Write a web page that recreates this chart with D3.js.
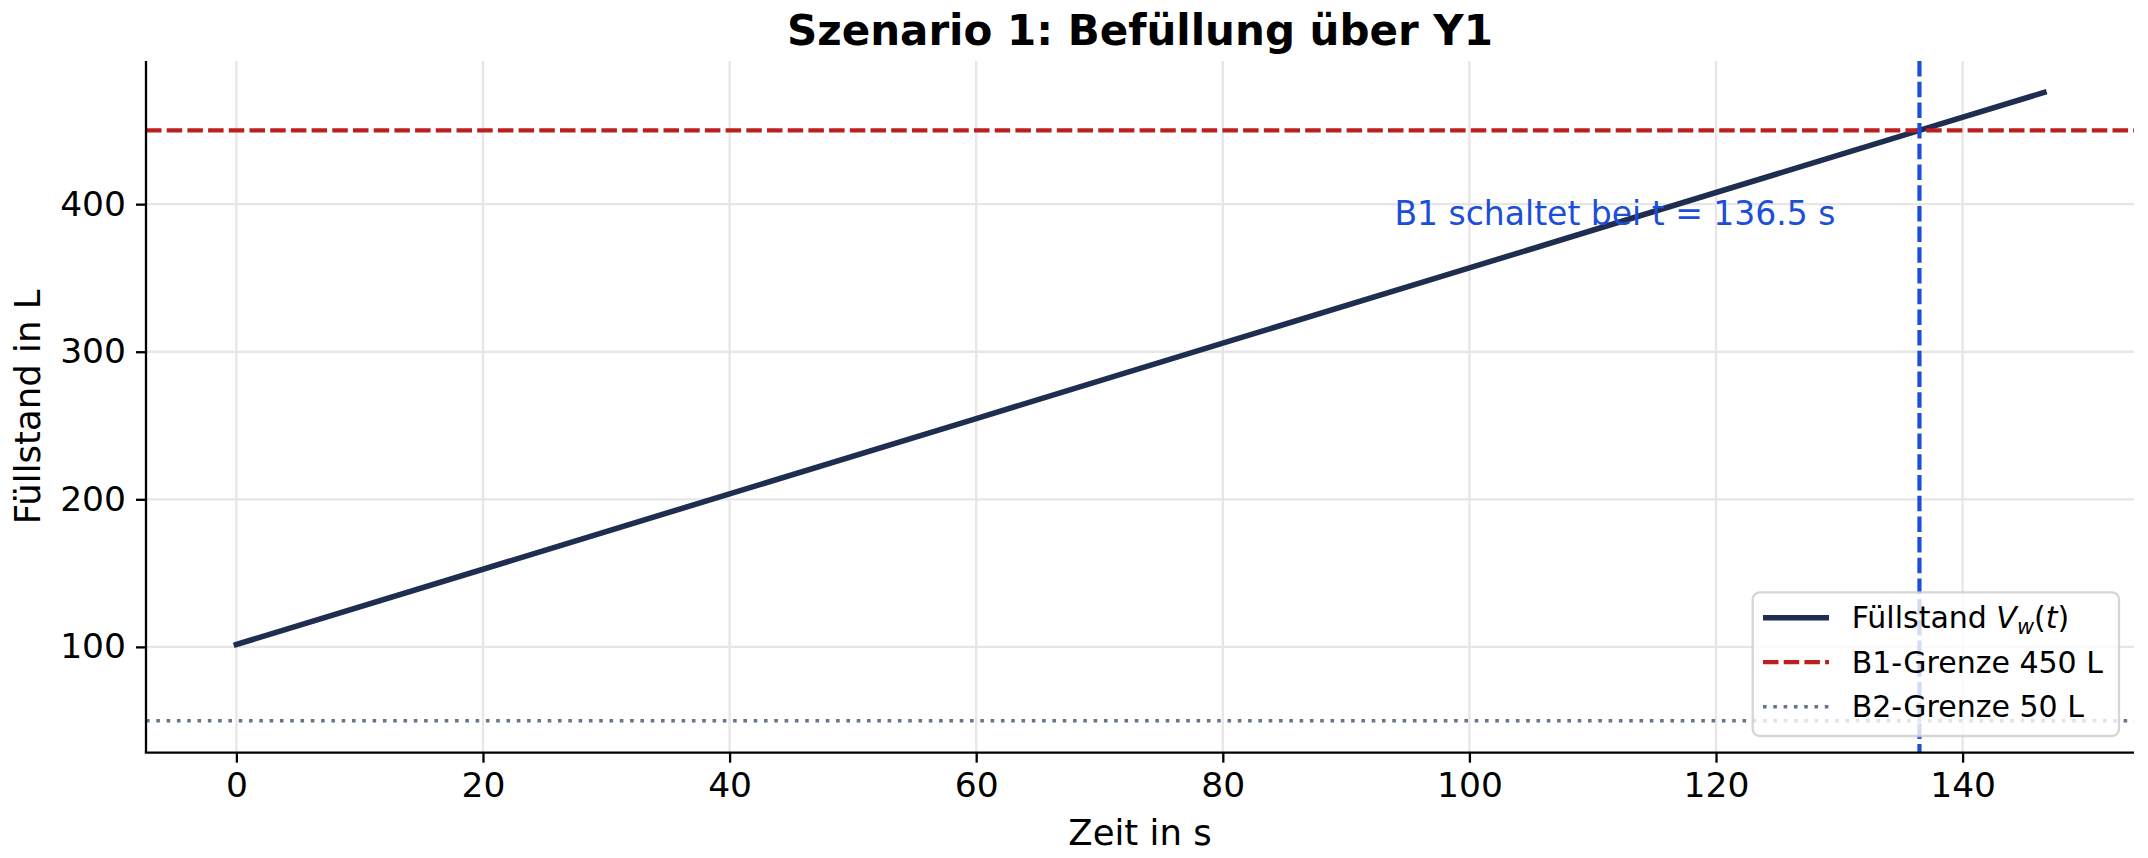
<!DOCTYPE html>
<html>
<head>
<meta charset="utf-8">
<script src="https://cdn.jsdelivr.net/npm/d3@7"></script>
<style>
  body { margin: 0; background: #fff; }
  text { font-family: "DejaVu Sans", sans-serif; }
</style>
</head>
<body>
<script>
// data
var zeit = [0, 20, 40, 60, 80, 100, 120, 136.5, 146.6];
var fuellstand = [101.6, 152.6, 203.7, 254.7, 305.8, 356.8, 407.9, 450, 475.7];
var b1Grenze = 450;
var b2Grenze = 50;
var schaltZeit = 136.5;
var xTicks = [0, 20, 40, 60, 80, 100, 120, 140];
var yTicks = [100, 200, 300, 400];
var legendLabels = ["B1-Grenze 450 L", "B2-Grenze 50 L"];

// svg container
var svgWidth = 2148;
var svgHeight = 858;

var margin = { top: 61, right: 14, bottom: 105.3, left: 146 };
var chartWidth = svgWidth - margin.left - margin.right;
var chartHeight = svgHeight - margin.top - margin.bottom;

var navy = "#1f2d50", red = "#bd1f1f", blue = "#1d4ed8", slate = "#64748b";

var svg = d3.select("body").append("svg")
    .attr("width", svgWidth)
    .attr("height", svgHeight);

var chartGroup = svg.append("g")
    .attr("transform", `translate(${margin.left}, ${margin.top})`);

// scales (matplotlib style 5% margins)
var xScale = d3.scaleLinear().domain([-7.33, 153.9]).range([0, chartWidth]);
var yScale = d3.scaleLinear().domain([28.3, 497]).range([chartHeight, 0]);

svg.append("defs").append("clipPath").attr("id", "plotclip")
  .append("rect").attr("width", chartWidth).attr("height", chartHeight);

// grid
chartGroup.append("g").selectAll("line").data(xTicks).enter().append("line")
    .attr("x1", d => xScale(d)).attr("x2", d => xScale(d))
    .attr("y1", 0).attr("y2", chartHeight)
    .attr("stroke", "#e6e6e6").attr("stroke-width", 2.3);
chartGroup.append("g").selectAll("line").data(yTicks).enter().append("line")
    .attr("x1", 0).attr("x2", chartWidth)
    .attr("y1", d => yScale(d)).attr("y2", d => yScale(d))
    .attr("stroke", "#e6e6e6").attr("stroke-width", 2.3);

var plot = chartGroup.append("g").attr("clip-path", "url(#plotclip)");

// main line
var line = d3.line().x((d, i) => xScale(zeit[i])).y(d => yScale(d));
plot.append("path")
    .datum(fuellstand)
    .attr("d", line)
    .attr("fill", "none")
    .attr("stroke", navy)
    .attr("stroke-width", 5.6)
    .attr("stroke-linecap", "square");

// B1 limit
plot.append("line")
    .attr("x1", 0).attr("x2", chartWidth)
    .attr("y1", yScale(b1Grenze)).attr("y2", yScale(b1Grenze))
    .attr("stroke", red).attr("stroke-width", 4.2)
    .attr("stroke-dasharray", "15.5,5.2");

// switch time
plot.append("line")
    .attr("x1", xScale(schaltZeit)).attr("x2", xScale(schaltZeit))
    .attr("y1", 0).attr("y2", chartHeight)
    .attr("stroke", blue).attr("stroke-width", 4.2)
    .attr("stroke-dasharray", "15.5,5.2");

// B2 limit
plot.append("line")
    .attr("x1", 0).attr("x2", chartWidth)
    .attr("y1", yScale(b2Grenze)).attr("y2", yScale(b2Grenze))
    .attr("stroke", slate).attr("stroke-width", 3.6)
    .attr("stroke-dasharray", "3.6,6.7");

// annotation
chartGroup.append("text")
    .attr("x", xScale(schaltZeit) - 84)
    .attr("y", yScale(386))
    .attr("text-anchor", "end")
    .attr("font-size", 33)
    .attr("fill", blue)
    .text("B1 schaltet bei t = " + schaltZeit + " s");

// axes
var bottomAxis = d3.axisBottom(xScale).tickValues(xTicks).tickSize(10).tickPadding(10);
var leftAxis = d3.axisLeft(yScale).tickValues(yTicks).tickSize(10).tickPadding(10);

var xAxisG = chartGroup.append("g").attr("transform", `translate(0, ${chartHeight})`).call(bottomAxis);
var yAxisG = chartGroup.append("g").call(leftAxis);
[xAxisG, yAxisG].forEach(g => {
  g.select(".domain").remove();
  g.selectAll(".tick line").attr("stroke", "#000").attr("stroke-width", 2.3);
  g.selectAll(".tick text").attr("font-size", 34.5).attr("fill", "#000")
    .attr("font-family", "DejaVu Sans");
});

// spines
chartGroup.append("line").attr("x1", 0).attr("x2", 0).attr("y1", 0).attr("y2", chartHeight)
    .attr("stroke", "#000").attr("stroke-width", 2.3);
chartGroup.append("line").attr("x1", -1.15).attr("x2", chartWidth).attr("y1", chartHeight).attr("y2", chartHeight)
    .attr("stroke", "#000").attr("stroke-width", 2.3);

// axis labels and title
svg.append("text")
    .attr("x", margin.left + chartWidth / 2).attr("y", 845)
    .attr("text-anchor", "middle").attr("font-size", 35.5)
    .text("Zeit in s");
svg.append("text")
    .attr("transform", `translate(40, ${margin.top + chartHeight / 2}) rotate(-90)`)
    .attr("text-anchor", "middle").attr("font-size", 35.5)
    .text("Füllstand in L");
svg.append("text")
    .attr("x", margin.left + chartWidth / 2).attr("y", 45)
    .attr("text-anchor", "middle").attr("font-size", 42).attr("font-weight", "bold")
    .text("Szenario 1: Befüllung über Y1");

// legend
var legend = svg.append("g").attr("transform", "translate(1752.7, 592.3)");
legend.append("rect")
    .attr("width", 366.3).attr("height", 143.7)
    .attr("rx", 7).attr("ry", 7)
    .attr("fill", "#fff").attr("fill-opacity", 0.8)
    .attr("stroke", "#cccccc").attr("stroke-opacity", 0.8).attr("stroke-width", 2.3);

var rows = [
  { color: navy, width: 5.6, dash: null },
  { color: red, width: 4.2, dash: "15.5,5.2" },
  { color: slate, width: 3.6, dash: "3.6,6.7" }
];
rows.forEach((r, i) => {
  var yy = 25.4 + i * 44.5;
  legend.append("line")
      .attr("x1", 10.3).attr("x2", 76.3).attr("y1", yy).attr("y2", yy)
      .attr("stroke", r.color).attr("stroke-width", r.width)
      .attr("stroke-dasharray", r.dash);
});

var t0 = legend.append("text").attr("x", 99).attr("y", 25.4 + 10.8).attr("font-size", 30);
t0.append("tspan").text("Füllstand ");
t0.append("tspan").attr("font-style", "italic").text("V");
t0.append("tspan").attr("font-style", "italic").attr("font-size", 21).attr("dy", 6).text("w");
t0.append("tspan").attr("dy", -6).text("(");
t0.append("tspan").attr("font-style", "italic").text("t");
t0.append("tspan").text(")");

legendLabels.forEach((lab, i) => {
  legend.append("text")
      .attr("x", 99).attr("y", 25.4 + (i + 1) * 44.5 + 10.8)
      .attr("font-size", 30)
      .text(lab);
});
</script>
</body>
</html>
